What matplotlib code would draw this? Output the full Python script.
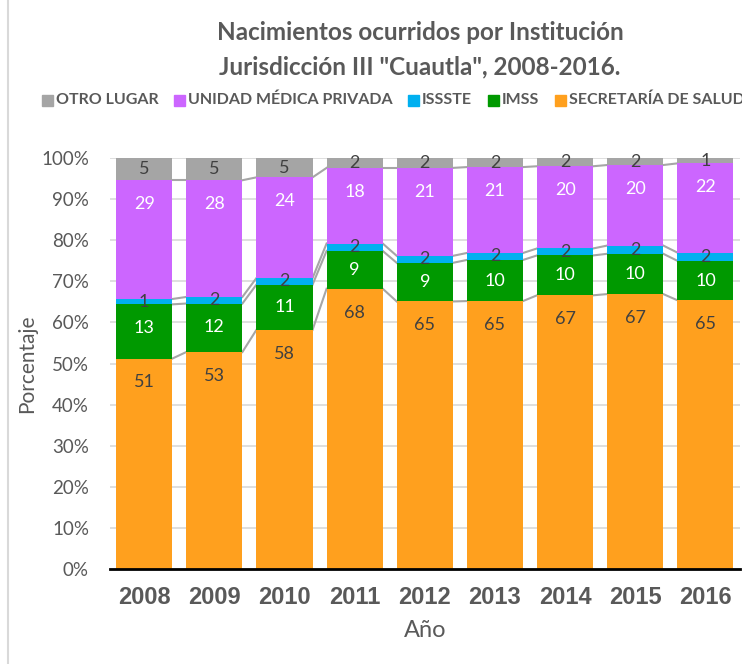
import numpy as np
import matplotlib.pyplot as plt
from matplotlib.patches import Rectangle
from matplotlib.lines import Line2D

# datos (porcentaje por institución)
anios = ['2008', '2009', '2010', '2011', '2012', '2013', '2014', '2015', '2016']
secretaria = [51.2, 52.8, 58.2, 68.2, 65.1, 65.2, 66.6, 66.9, 65.4]
imss = [13.2, 11.8, 11.0, 9.2, 9.4, 10.0, 9.7, 9.8, 9.6]
issste = [1.3, 1.6, 1.6, 1.8, 1.7, 1.7, 1.7, 2.0, 2.0]
privada = [28.9, 28.4, 24.5, 18.4, 21.4, 20.9, 20.0, 19.6, 21.7]
otro = [5.4, 5.4, 4.7, 2.4, 2.4, 2.2, 2.0, 1.7, 1.3]

series = ['SECRETARÍA DE SALUD', 'IMSS', 'ISSSTE', 'UNIDAD MÉDICA PRIVADA', 'OTRO LUGAR']
valores = [secretaria, imss, issste, privada, otro]
colores = ['#FFA01E', '#009900', '#00B0F0', '#CC66FF', '#A5A5A5']
color_texto = ['#404040', 'white', '#404040', 'white', '#404040']

gris = '#595959'
fuente = ['Lato', 'DejaVu Sans']
plt.rcParams['font.family'] = fuente

fig = plt.figure(figsize=(7.42, 6.64), dpi=100)
ax = fig.add_axes([0.148, 0.143, 0.849, 0.619])

x = np.arange(len(anios))
ancho = 0.8
base = np.zeros(len(anios))
for nombre, vals, col, ctxt in zip(series, valores, colores, color_texto):
    vals = np.array(vals)
    ax.bar(x, vals, ancho, bottom=base, color=col, zorder=3)
    tope = base + vals
    for i in range(len(anios)):
        y = tope[i] - min(vals[i] / 2, 5.8)
        ax.text(x[i], y, f'{vals[i]:.0f}', ha='center', va='center',
                color=ctxt, fontsize=13, zorder=5)
    base = tope
    # líneas de serie
    if nombre != 'OTRO LUGAR':
        for i in range(len(anios) - 1):
            ax.plot([x[i] + ancho / 2, x[i + 1] - ancho / 2], [tope[i], tope[i + 1]],
                    color='#A6A6A6', lw=1.5, zorder=2)

ax.set_ylim(0, 100)
ax.set_xlim(-0.49, len(anios) - 0.51)
ax.set_yticks(np.arange(0, 101, 10))
ax.set_yticklabels([f'{v}%' for v in range(0, 101, 10)], fontsize=13.5, color=gris)
ax.set_xticks(x)
ax.set_xticklabels(anios, fontsize=17, fontweight='bold', color=gris,
                   family=['Liberation Sans Narrow', 'Liberation Sans'])
ax.tick_params(axis='y', length=0, pad=15)
ax.tick_params(axis='x', length=0, pad=12)
ax.grid(axis='y', color='#D9D9D9', lw=1.2, zorder=0)
for s in ['top', 'right', 'left']:
    ax.spines[s].set_visible(False)
ax.spines['bottom'].set_color('black')
ax.spines['bottom'].set_linewidth(2)
ax.spines['bottom'].set_zorder(4)

ax.set_ylabel('Porcentaje', fontsize=15, color=gris, labelpad=3)
ax.set_xlabel('Año', fontsize=17, color=gris, labelpad=8)

fig.text(0.566, 0.951, 'Nacimientos ocurridos por Institución', ha='center', va='center',
         fontsize=17.5, fontweight='bold', color=gris)
fig.text(0.566, 0.899, 'Jurisdicción III "Cuautla", 2008-2016.', ha='center', va='center',
         fontsize=17.5, fontweight='bold', color=gris)

# leyenda manual
leyenda_x = [42, 174, 408, 488, 555]
orden = [4, 3, 2, 1, 0]
ley_y = 100
for px, k in zip(leyenda_x, orden):
    fig.patches.append(Rectangle((px / 742, 1 - (ley_y + 6) / 664), 11 / 742, 11 / 664,
                                 transform=fig.transFigure, color=colores[k]))
    fig.text((px + 14) / 742, 1 - ley_y / 664, series[k], ha='left', va='center',
             fontsize=11.5, fontweight='bold', color=gris)

# borde del área del gráfico
fig.lines.append(Line2D([8 / 742, 8 / 742], [0, 1], transform=fig.transFigure,
                        color='#D9D9D9', lw=1.5))

fig.savefig('out.png', dpi=100)
